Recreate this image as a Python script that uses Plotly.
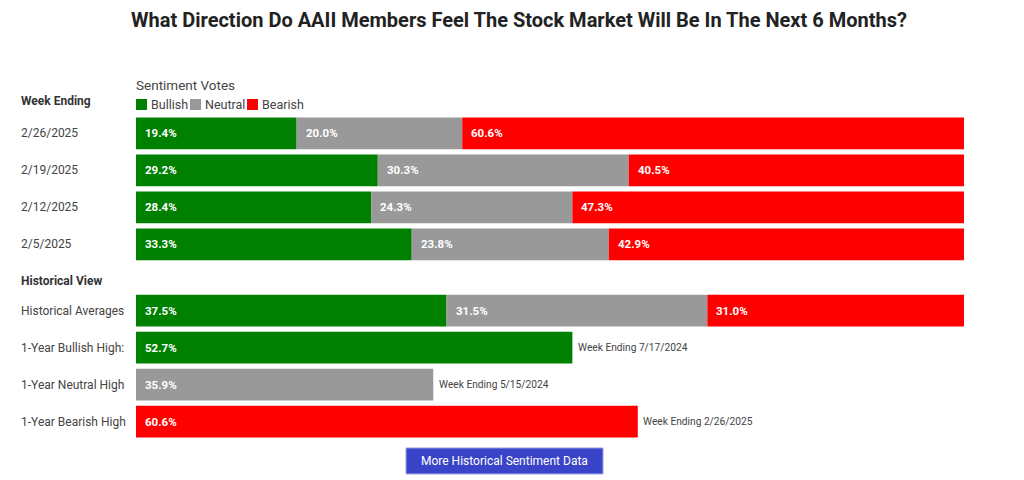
import plotly.graph_objects as go

# ---------------- data ----------------
weeks = ["2/26/2025", "2/19/2025", "2/12/2025", "2/5/2025"]
bullish = [19.4, 29.2, 28.4, 33.3]
neutral = [20.0, 30.3, 24.3, 23.8]
bearish = [60.6, 40.5, 47.3, 42.9]

hist_labels = ["Historical Averages", "1-Year Bullish High:", "1-Year Neutral High", "1-Year Bearish High"]
hist_avg = {"Bullish": 37.5, "Neutral": 31.5, "Bearish": 31.0}
high_values = {"Bullish": 52.7, "Neutral": 35.9, "Bearish": 60.6}
high_weeks = {"Bullish": "7/17/2024", "Neutral": "5/15/2024", "Bearish": "2/26/2025"}

series_names = ["Bullish", "Neutral", "Bearish"]
colors = {"Bullish": "#008000", "Neutral": "#999999", "Bearish": "#FF0000"}

# ---------------- layout helpers ----------------
week_rows = [0, 1, 2, 3]
hist_avg_row = 4.8
high_rows = {"Bullish": 5.8, "Neutral": 6.8, "Bearish": 7.8}
hist_rows = [hist_avg_row, high_rows["Bullish"], high_rows["Neutral"], high_rows["Bearish"]]

FONT = "Roboto"
fig = go.Figure()
annotations = []

weekly = {"Bullish": bullish, "Neutral": neutral, "Bearish": bearish}

for s_idx, s in enumerate(series_names):
    ys, xs, bases = [], [], []
    for i, r in enumerate(week_rows):
        b = sum(weekly[series_names[k]][i] for k in range(s_idx))
        ys.append(r); xs.append(weekly[s][i]); bases.append(b)
    b = sum(hist_avg[series_names[k]] for k in range(s_idx))
    ys.append(hist_avg_row); xs.append(hist_avg[s]); bases.append(b)
    ys.append(high_rows[s]); xs.append(high_values[s]); bases.append(0)

    fig.add_trace(go.Bar(
        x=xs, y=ys, base=bases, orientation="h", width=0.86,
        marker=dict(color=colors[s], line=dict(width=0)),
        name=s, showlegend=False, hoverinfo="skip",
    ))
    for x, y, b in zip(xs, ys, bases):
        annotations.append(dict(
            x=b + 0.85, y=y, xref="x", yref="y", text=f"<b>{x:.1f}%</b>",
            showarrow=False, xanchor="left", yanchor="middle",
            font=dict(family=FONT, size=11.5, color="white"),
        ))
    annotations.append(dict(
        x=high_values[s] + 0.45, y=high_rows[s], xref="x", yref="y",
        text=f"Week Ending {high_weeks[s]}", showarrow=False,
        xanchor="left", yanchor="middle",
        font=dict(family=FONT, size=10.2, color="#444444"),
    ))

W, H = 1024, 480
ML, MR, MT, MB = 136, 60, 114.5, 40
pw = W - ML - MR
ph = H - MT - MB
def px_x(p):
    return (p - ML) / pw
def px_y(p):
    return 1 - (p - MT) / ph

# row labels
for lab, r in zip(weeks + hist_labels, week_rows + hist_rows):
    annotations.append(dict(
        x=px_x(19), y=r, xref="paper", yref="y", text=lab, showarrow=False,
        xanchor="left", yanchor="middle",
        font=dict(family=FONT, size=12, color="#444444"),
    ))

# headers
annotations.append(dict(x=px_x(19), y=px_y(100), xref="paper", yref="paper",
                        text="<b>Week Ending</b>", showarrow=False, xanchor="left", yanchor="middle",
                        font=dict(family=FONT, size=12, color="#333333")))
annotations.append(dict(x=px_x(19), y=px_y(281), xref="paper", yref="paper",
                        text="<b>Historical View</b>", showarrow=False, xanchor="left", yanchor="middle",
                        font=dict(family=FONT, size=12, color="#333333")))
annotations.append(dict(x=px_x(134), y=px_y(84), xref="paper", yref="paper",
                        text="Sentiment Votes", showarrow=False, xanchor="left", yanchor="middle",
                        font=dict(family=FONT, size=13.5, color="#444444")))

# custom legend
shapes = []
leg_x = [136, 190, 247]
for s, lx in zip(series_names, leg_x):
    shapes.append(dict(type="rect", xref="paper", yref="paper",
                       x0=px_x(lx), x1=px_x(lx + 11), y0=px_y(109.5), y1=px_y(98.5),
                       fillcolor=colors[s], line=dict(width=0)))
    annotations.append(dict(x=px_x(lx + 13), y=px_y(104), xref="paper", yref="paper",
                            text=s, showarrow=False, xanchor="left", yanchor="middle",
                            font=dict(family=FONT, size=12.5, color="#444444")))

# button
shapes.append(dict(type="rect", xref="paper", yref="paper",
                   x0=px_x(406), x1=px_x(603), y0=px_y(474), y1=px_y(448),
                   fillcolor="#3A44C8", line=dict(color="#9aa0e0", width=1)))
annotations.append(dict(x=px_x(504.5), y=px_y(461), xref="paper", yref="paper",
                        text="More Historical Sentiment Data", showarrow=False,
                        xanchor="center", yanchor="middle",
                        font=dict(family=FONT, size=12, color="white")))

fig.update_layout(
    width=W, height=H,
    margin=dict(l=ML, r=MR, t=MT, b=MB),
    paper_bgcolor="white", plot_bgcolor="white",
    barmode="overlay",
    title=dict(text="<b>What Direction Do AAII Members Feel The Stock Market Will Be In The Next 6 Months?</b>",
               x=519 / W, xanchor="center", y=1 - 20 / H, yanchor="middle",
               font=dict(family=FONT, size=20, color="#222222")),
    xaxis=dict(range=[0, 100], visible=False, fixedrange=True),
    yaxis=dict(range=[8.3, -0.5], visible=False, fixedrange=True),
    annotations=annotations, shapes=shapes,
)

fig.write_html("out.html", config={"displayModeBar": False},
               post_script="document.body.style.margin='0';document.body.style.overflow='hidden';")
